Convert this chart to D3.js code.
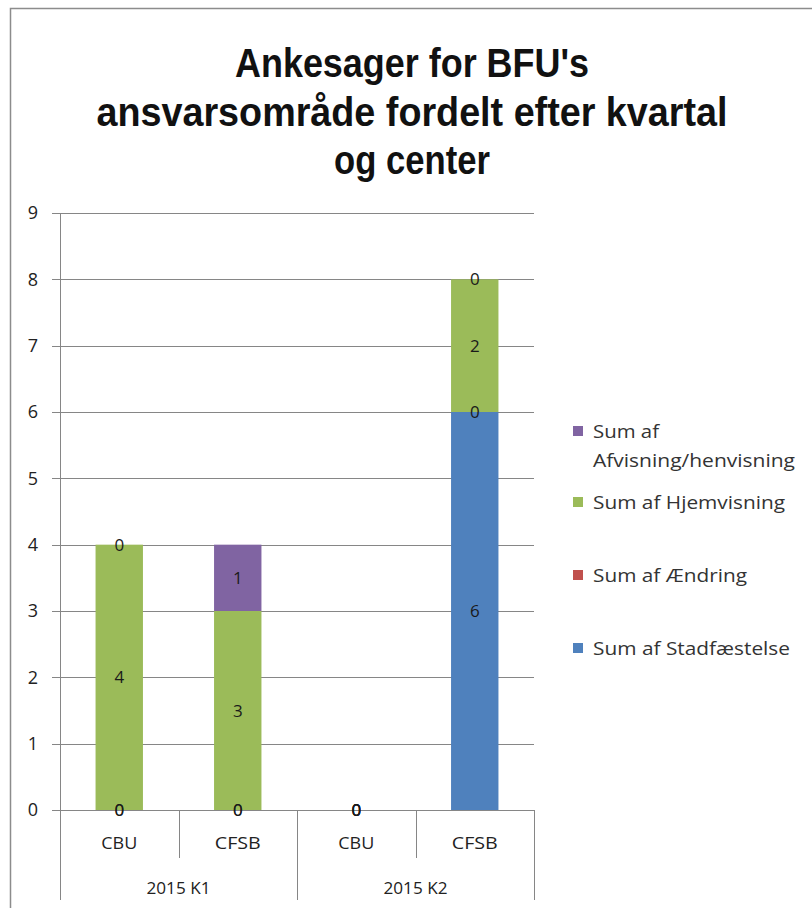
<!DOCTYPE html>
<html>
<head>
<meta charset="utf-8">
<script src="https://cdn.jsdelivr.net/npm/d3@7"></script>
<style>
  html, body { margin: 0; padding: 0; background: #fff; }
  svg { display: block; }
</style>
</head>
<body>
<svg id="chart" width="812" height="908"></svg>
<script>
// ---- data ----
const groups = ["2015 K1", "2015 K2"];
const centers = ["CBU", "CFSB", "CBU", "CFSB"];
const categoryGroup = [0, 0, 1, 1];
const seriesNames = ["Sum af Stadfæstelse", "Sum af Ændring", "Sum af Hjemvisning", "Sum af Afvisning/henvisning"];
const stadfaestelse = [0, 0, 0, 6];
const aendring = [0, 0, 0, 0];
const hjemvisning = [4, 3, 0, 2];
const afvisning = [0, 1, 0, 0];
const seriesColors = ["#4F81BD", "#C0504D", "#9BBB59", "#8064A2"];
const yTicks = [0, 1, 2, 3, 4, 5, 6, 7, 8, 9];
const titleLines = ["Ankesager for BFU's", "ansvarsområde fordelt efter kvartal", "og center"];

const seriesValues = [stadfaestelse, aendring, hjemvisning, afvisning];
const rows = centers.map((c, i) => {
  const r = { idx: i };
  seriesNames.forEach((s, j) => r[s] = seriesValues[j][i]);
  return r;
});

const svg = d3.select("#chart");
const gridColor = "#868686";
const font = "'Liberation Sans Narrow', 'Liberation Sans', Arial, sans-serif";
const bodyFont = "'Open Sans', 'Liberation Sans', Arial, sans-serif";

// chart border
svg.append("rect").attr("x", 10.5).attr("y", 8.5).attr("width", 830).attr("height", 930)
  .attr("fill", "#fff").attr("stroke", "#8c8c8c").attr("stroke-width", 1.5);

// title
const titleWidths = [354, 631, 156];
const titleBaselines = [77, 126, 174];
svg.append("g").selectAll("text").data(titleLines).join("text")
  .attr("x", 412).attr("y", (d, i) => titleBaselines[i])
  .attr("text-anchor", "middle")
  .attr("font-family", font).attr("font-weight", "bold").attr("font-size", 40)
  .attr("fill", "#111")
  .attr("textLength", (d, i) => titleWidths[i]).attr("lengthAdjust", "spacingAndGlyphs")
  .text(d => d);

// scales
const plotLeft = 60, plotRight = 534, plotTop = 213, plotBottom = 810;
const idx = rows.map(r => r.idx);
const x = d3.scaleBand().domain(idx).range([plotLeft, plotRight]).paddingInner(0.6).paddingOuter(0.3);
const xCat = d3.scaleBand().domain(idx).range([plotLeft, plotRight]).padding(0);
const y = d3.scaleLinear().domain([0, 9]).range([plotBottom, plotTop]);

// gridlines + ticks
svg.append("g").selectAll("line").data(yTicks).join("line")
  .attr("x1", plotLeft - 8).attr("x2", plotRight)
  .attr("y1", d => Math.round(y(d)) + 0.5).attr("y2", d => Math.round(y(d)) + 0.5)
  .attr("stroke", gridColor).attr("stroke-width", 1);

// y axis labels
svg.append("g").selectAll("text").data(yTicks).join("text")
  .attr("x", 38).attr("y", d => y(d)).attr("dy", "0.36em")
  .attr("text-anchor", "end")
  .attr("font-family", bodyFont).attr("font-size", 18)
  .attr("fill", "#222").text(d => d);

// stacked bars
const stack = d3.stack().keys(seriesNames);
const stacked = stack(rows);
const layers = svg.append("g").selectAll("g").data(stacked).join("g")
  .attr("fill", (d, i) => seriesColors[i]);
layers.selectAll("rect").data(d => d).join("rect")
  .attr("x", d => x(d.data.idx))
  .attr("width", x.bandwidth())
  .attr("y", d => y(d[1]))
  .attr("height", d => y(d[0]) - y(d[1]));

// y axis line
svg.append("line").attr("x1", plotLeft + 0.5).attr("x2", plotLeft + 0.5)
  .attr("y1", plotTop).attr("y2", 900).attr("stroke", gridColor);

// category separators
const bounds = idx.map(i => xCat(i) + xCat.bandwidth());
svg.append("g").selectAll("line").data(bounds).join("line")
  .attr("x1", d => Math.round(d) + 0.5).attr("x2", d => Math.round(d) + 0.5)
  .attr("y1", plotBottom)
  .attr("y2", (d, i) => (i === idx.length - 1 || categoryGroup[i] !== categoryGroup[i + 1]) ? 900 : 858)
  .attr("stroke", gridColor);

// data labels
stacked.forEach((layer, j) => {
  svg.append("g").selectAll("text").data(layer).join("text")
    .attr("x", d => x(d.data.idx) + x.bandwidth() / 2)
    .attr("y", d => y((d[0] + d[1]) / 2)).attr("dy", "0.36em")
    .attr("text-anchor", "middle")
    .attr("font-family", bodyFont).attr("font-size", 17)
    .attr("fill", "#1a1a1a")
    .text(d => d[1] - d[0]);
});

// category labels
svg.append("g").selectAll("text").data(idx).join("text")
  .attr("x", d => xCat(d) + xCat.bandwidth() / 2).attr("y", 849)
  .attr("text-anchor", "middle")
  .attr("font-family", bodyFont).attr("font-size", 17)
  .attr("textLength", d => centers[d].length === 3 ? 36 : 46).attr("lengthAdjust", "spacingAndGlyphs")
  .attr("fill", "#222").text(d => centers[d]);

// group labels
svg.append("g").selectAll("text").data(groups).join("text")
  .attr("x", (g, gi) => {
    const members = idx.filter(i => categoryGroup[i] === gi);
    return (xCat(members[0]) + xCat(members[members.length - 1]) + xCat.bandwidth()) / 2;
  })
  .attr("y", 894).attr("text-anchor", "middle")
  .attr("font-family", bodyFont).attr("font-size", 17)
  .attr("textLength", 64).attr("lengthAdjust", "spacingAndGlyphs")
  .attr("fill", "#222").text(d => d);

// legend (reverse order)
const legendItems = seriesNames.map((s, i) => ({ name: s, color: seriesColors[i] })).reverse();
const legendY = [431, 502, 575, 648];
const legendWidths = {
  "Sum af": 66, "Afvisning/henvisning": 202, "Sum af Hjemvisning": 192,
  "Sum af Ændring": 154, "Sum af Stadfæstelse": 197
};
const lg = svg.append("g").selectAll("g").data(legendItems).join("g")
  .attr("transform", (d, i) => `translate(573,${legendY[i]})`);
lg.append("rect").attr("x", 0).attr("y", -5).attr("width", 10).attr("height", 10)
  .attr("fill", d => d.color);
lg.each(function(d) {
  const g = d3.select(this);
  const parts = d.name === "Sum af Afvisning/henvisning" ? ["Sum af", "Afvisning/henvisning"] : [d.name];
  g.selectAll("text").data(parts).join("text")
    .attr("x", 20).attr("y", (p, k) => k * 29).attr("dy", "0.36em")
    .attr("font-family", bodyFont).attr("font-size", 18.5)
    .attr("textLength", p => legendWidths[p]).attr("lengthAdjust", "spacingAndGlyphs")
    .attr("fill", "#333").text(p => p);
});
</script>
</body>
</html>
